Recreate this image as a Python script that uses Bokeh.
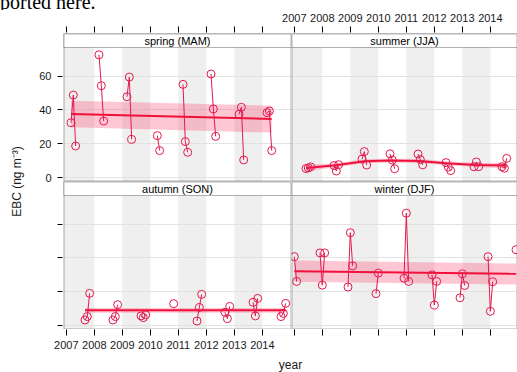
import math
from bokeh.plotting import figure
from bokeh.layouts import row, column
from bokeh.models import (Range1d, LinearAxis, FixedTicker, BoxAnnotation, Label, Div,
                          ColumnDataSource, Grid, CustomJSTickFormatter)
from bokeh.embed import file_html
from bokeh.resources import INLINE

# ---------------- data ----------------
YEARS = [2007, 2008, 2009, 2010, 2011, 2012, 2013, 2014]
Y_TICKS = [0, 20, 40, 60]
SHADED_YEARS = [2007, 2009, 2011, 2013]

spring_dates = ["2007-03", "2007-04", "2007-05", "2008-03", "2008-04", "2008-05",
                "2009-03", "2009-04", "2009-05", "2010-04", "2010-05",
                "2011-03", "2011-04", "2011-05", "2012-03", "2012-04", "2012-05",
                "2013-03", "2013-04", "2013-05", "2014-03", "2014-04", "2014-05"]
spring_ebc = [32.5, 48.8, 18.8, 72.5, 54.3, 33.5,
              47.8, 59.4, 22.7, 24.9, 16.1,
              55.1, 21.4, 15.1, 61.2, 40.6, 24.5,
              37.5, 41.6, 10.6, 38.4, 39.4, 16.1]
spring_trend_x = [2007.17, 2014.33]
spring_trend_fit = [37.6, 34.7]
spring_trend_lo = [29.8, 26.7]
spring_trend_hi = [45.5, 42.5]

summer_dates = ["2007-06", "2007-07", "2007-08", "2008-06", "2008-07", "2008-08",
                "2009-06", "2009-07", "2009-08", "2010-06", "2010-07", "2010-08",
                "2011-06", "2011-07", "2011-08", "2012-06", "2012-07", "2012-08",
                "2013-06", "2013-07", "2013-08", "2014-06", "2014-07", "2014-08"]
summer_ebc = [5.5, 5.9, 6.5, 7.3, 4.1, 7.8,
              11.1, 15.5, 7.6, 14.2, 10.5, 5.4,
              14.1, 10.8, 7.7, 9.0, 6.4, 4.3,
              6.6, 9.4, 6.6, 6.6, 5.7, 11.5]
summer_trend_x = [2007.42, 2008.49, 2009.5, 2010.39, 2011.46, 2012.41, 2013.48, 2014.58]
summer_trend_fit = [5.9, 7.5, 9.8, 10.3, 10.0, 8.6, 7.6, 7.3]
summer_trend_lo = [4.1, 6.3, 8.6, 9.1, 8.8, 7.4, 6.4, 5.6]
summer_trend_hi = [7.7, 8.7, 11.0, 11.5, 11.2, 9.8, 8.8, 9.0]

autumn_dates = ["2007-09", "2007-10", "2007-11", "2008-09", "2008-10", "2008-11",
                "2009-09", "2009-10", "2009-11", "2010-11",
                "2011-09", "2011-10", "2011-11", "2012-09", "2012-10", "2012-11",
                "2013-09", "2013-10", "2013-11", "2014-09", "2014-10", "2014-11"]
autumn_ebc = [3.5, 5.5, 19.2, 3.5, 5.5, 12.5,
              5.9, 4.9, 6.5, 13.1,
              2.9, 10.9, 18.6, 8.0, 4.3, 11.5,
              13.9, 5.9, 16.2, 5.5, 7.4, 13.3]
autumn_trend_x = [2007.67, 2014.83]
autumn_trend_fit = [9.2, 9.2]
autumn_trend_lo = [7.8, 7.8]
autumn_trend_hi = [10.6, 10.6]

winter_dates = ["2007-01", "2007-02", "2007-12", "2008-01", "2008-02",
                "2008-12", "2009-01", "2009-02", "2009-12", "2010-01",
                "2010-12", "2011-01", "2011-02", "2011-12", "2012-01", "2012-02",
                "2012-12", "2013-01", "2013-02", "2013-12", "2014-01", "2014-02",
                "2014-12"]
winter_ebc = [40.8, 26.2, 43.0, 24.0, 43.0,
              22.9, 54.9, 35.4, 19.0, 31.1,
              28.1, 66.4, 26.2, 30.1, 12.3, 26.2,
              16.6, 30.7, 23.8, 40.8, 8.6, 26.0,
              44.9]
winter_trend_x = [2007.0, 2014.92]
winter_trend_fit = [32.2, 30.7]
winter_trend_lo = [26.0, 24.4]
winter_trend_hi = [38.5, 36.7]

# ---------------- styling / layout ----------------
FONT = "Liberation Sans"
TXT = "#1a1a1a"
PT_COLOR = "#e31a4e"
TREND_COLOR = "#f0103c"
BAND_COLOR = "#ff2050"
SHADE_COLOR = "#efefef"
GRID_COLOR = "#e2e2e2"

X0, X1 = 2006.9, 2015.04
SPAN = X1 - X0
LEFT_FRAME_W = 228
RIGHT_FRAME_W = 226
PX_PER_YEAR = LEFT_FRAME_W / SPAN
X_END_RIGHT = X0 + RIGHT_FRAME_W / PX_PER_YEAR

Y0, Y1 = -2.1, 76.8
DATA_H = 134
FRAME_H = 148
Y_TOP = Y0 + FRAME_H * (Y1 - Y0) / DATA_H
Y_SPAN = Y_TOP - Y0

LEFT_W = 63          # left axis column (incl. y label)
TEXT_H = 10          # cropped document text above the chart
HEADER_H = 23        # top axis row
FOOTER_H = 43        # bottom axis row (incl. x label)
PANELS_W = LEFT_FRAME_W + RIGHT_FRAME_W
FULL_W = LEFT_W + PANELS_W


def decimal_year(d):
    y, m = d.split("-")
    return int(y) + (int(m) - 1) / 12.0


def season_group(d, season):
    y, m = map(int, d.split("-"))
    return y + 1 if (season == "DJF" and m == 12) else y


def base_fig(w, h, xr, yr, **borders):
    f = figure(width=w, height=h, x_range=xr, y_range=yr, output_backend="svg",
               toolbar_location=None, x_axis_location=None, y_axis_location=None,
               min_border=0, **borders)
    f.grid.visible = False
    f.outline_line_color = None
    f.background_fill_color = "white"
    f.border_fill_color = "white"
    return f


def style_axis(ax, standoff):
    ax.axis_line_color = None
    ax.major_tick_line_color = "black"
    ax.major_tick_out = 6
    ax.major_tick_in = 0
    ax.minor_tick_line_color = None
    ax.major_label_text_font = FONT
    ax.major_label_text_font_size = "11px"
    ax.major_label_text_color = TXT
    ax.major_label_standoff = standoff
    ax.axis_label_text_font = FONT
    ax.axis_label_text_font_size = "12px"
    ax.axis_label_text_font_style = "normal"
    ax.axis_label_text_color = TXT
    return ax


def make_panel(title, season, dates, vals, tx, tfit, tlo, thi, is_left):
    x_end = X1 if is_left else X_END_RIGHT
    width = LEFT_FRAME_W if is_left else RIGHT_FRAME_W
    p = base_fig(width, FRAME_H, Range1d(X0, x_end), Range1d(Y0, Y_TOP))

    # alternating year shading (under the grid)
    for i, yr in enumerate(SHADED_YEARS):
        left = X0 if i == 0 else yr
        p.add_layout(BoxAnnotation(left=left, right=yr + 1, fill_color=SHADE_COLOR,
                                   fill_alpha=1, line_color=None, level="underlay"))
    p.add_layout(Grid(dimension=1, ticker=FixedTicker(ticks=Y_TICKS),
                      grid_line_color=GRID_COLOR, grid_line_width=1))

    # trend band & line
    tsrc = ColumnDataSource(dict(x=tx, fit=tfit, lo=tlo, hi=thi))
    p.varea(x="x", y1="lo", y2="hi", source=tsrc, fill_color=BAND_COLOR, fill_alpha=0.25)
    p.line(x="x", y="fit", source=tsrc, line_color=TREND_COLOR, line_width=2)

    # monthly points joined within each season
    xs_d = [decimal_year(d) for d in dates]
    groups = {}
    for d, x, v in zip(dates, xs_d, vals):
        groups.setdefault(season_group(d, season), []).append((x, v))
    mxs = [[a for a, _ in g] for g in groups.values()]
    mys = [[b for _, b in g] for g in groups.values()]
    p.multi_line(xs=mxs, ys=mys, line_color=PT_COLOR, line_width=1)
    psrc = ColumnDataSource(dict(x=xs_d, y=vals))
    p.scatter("x", "y", source=psrc, marker="circle", size=8, fill_color=None,
              line_color=PT_COLOR, line_width=1)

    # strip + panel border
    p.add_layout(BoxAnnotation(bottom=Y1, fill_color="white", fill_alpha=1,
                               line_color="black", line_width=1))
    p.add_layout(Label(x=(X0 + x_end) / 2, y=(Y1 + Y_TOP) / 2, text=title,
                       text_align="center", text_baseline="middle",
                       text_font=FONT, text_font_size="11px", text_color="black"))
    p.add_layout(BoxAnnotation(fill_alpha=0, line_color="black", line_width=2,
                               level="overlay"))
    return p


p_spring = make_panel("spring (MAM)", "MAM", spring_dates, spring_ebc, spring_trend_x,
                      spring_trend_fit, spring_trend_lo, spring_trend_hi, True)
p_summer = make_panel("summer (JJA)", "JJA", summer_dates, summer_ebc, summer_trend_x,
                      summer_trend_fit, summer_trend_lo, summer_trend_hi, False)
p_autumn = make_panel("autumn (SON)", "SON", autumn_dates, autumn_ebc, autumn_trend_x,
                      autumn_trend_fit, autumn_trend_lo, autumn_trend_hi, True)
p_winter = make_panel("winter (DJF)", "DJF", winter_dates, winter_ebc, winter_trend_x,
                      winter_trend_fit, winter_trend_lo, winter_trend_hi, False)

# tail of the surrounding document text, cut by the crop of the picture
p_text = Div(text='<div style="height:10px; overflow:hidden; white-space:nowrap; margin:0; padding:0; '
                  'font-family:\'Liberation Serif\'; font-size:20px; line-height:10px; color:black;">'
                  '<span style="position:relative; top:-3.5px;">ported here.</span></div>',
             width=FULL_W, height=TEXT_H,
             styles={"overflow": "hidden", "margin": "0", "padding": "0", "line-height": "10px"})

# top axis row: ticks for the left column (no labels), ticks + labels for the right column
top_x0 = X0 - SPAN
p_top = base_fig(FULL_W, HEADER_H, Range1d(top_x0, X_END_RIGHT), Range1d(0, 1),
                 min_border_top=HEADER_H - 1, min_border_left=LEFT_W)
top_ax = LinearAxis(ticker=FixedTicker(ticks=[y - SPAN for y in YEARS] + YEARS, minor_ticks=[]),
                    formatter=CustomJSTickFormatter(code="return tick < 2006 ? '' : tick.toFixed(0);"))
p_top.add_layout(style_axis(top_ax, 5), "above")

# bottom axis row: ticks + labels for the left column, ticks for the right column
p_bot = base_fig(FULL_W, FOOTER_H, Range1d(X0, X0 + PANELS_W / PX_PER_YEAR), Range1d(0, 1),
                 min_border_bottom=FOOTER_H - 1, min_border_left=LEFT_W)
bot_ax = LinearAxis(ticker=FixedTicker(ticks=YEARS + [y + SPAN for y in YEARS], minor_ticks=[]),
                    formatter=CustomJSTickFormatter(code="return tick > 2014.5 ? '' : tick.toFixed(0);"),
                    axis_label="year")
style_axis(bot_ax, 5)
bot_ax.axis_label_standoff = 6
p_bot.add_layout(bot_ax, "below")

# left axis column: labels for the top row, ticks for the bottom row
p_left = base_fig(LEFT_W, 2 * FRAME_H, Range1d(0, 1), Range1d(Y0 - Y_SPAN, Y_TOP),
                  min_border_left=LEFT_W - 1)
left_ax = LinearAxis(ticker=FixedTicker(ticks=Y_TICKS + [t - Y_SPAN for t in Y_TICKS], minor_ticks=[]),
                     formatter=CustomJSTickFormatter(code="return tick < -10 ? '' : tick.toFixed(0);"),
                     axis_label="EBC (ng m\u207b\u00b3)")
style_axis(left_ax, 6)
left_ax.major_tick_out = 5
left_ax.axis_label_standoff = 12
p_left.add_layout(left_ax, "left")

layout = column(p_text, p_top,
                row(p_left, column(row(p_spring, p_summer), row(p_autumn, p_winter))),
                p_bot)

open("out.html", "w").write(file_html(layout, INLINE))
